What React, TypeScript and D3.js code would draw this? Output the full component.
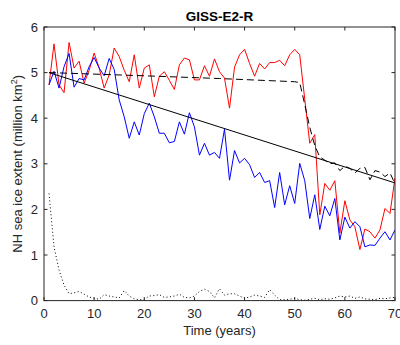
import React from "react";
import * as d3 from "d3";

const years = d3.range(1, 71);
const redSeries = [4.73,5.63,4.73,4.56,5.66,5.1,5.25,4.77,5.05,5.43,5.1,4.66,4.95,5.54,5.35,5.05,4.8,5.39,4.66,5.1,5.17,4.47,4.92,5.02,4.83,4.63,5.17,5.32,5.28,4.84,4.84,5.15,4.92,5.3,5.02,4.88,4.22,5.12,5.39,5.51,5.2,4.92,5.2,5.08,5.22,5.22,5.27,5.15,5.39,5.51,5.39,4.42,3.45,3.64,1.88,2.57,2.42,2.63,1.48,2.19,1.77,1.62,1.12,1.57,1.51,1.37,1.55,2.02,1.91,2.69];
const blueSeries = [4.73,5.03,4.66,5.13,5.42,4.68,4.87,4.84,5.13,5.33,5.1,4.93,5.31,5.07,4.4,4.03,3.56,3.92,3.63,4.1,4.33,4.03,3.67,3.67,3.46,3.49,3.92,3.65,4.12,3.81,3.19,3.45,3.19,3.25,3.12,3.76,2.64,3.29,3.02,3.12,2.98,2.7,2.81,2.59,2.63,2.04,2.81,2.1,2.52,2.13,3.01,2.63,1.8,2.32,1.56,2.07,1.86,2.24,1.33,1.83,1.59,1.73,1.62,1.18,1.22,1.21,1.37,1.51,1.33,1.55];
const dottedSeries = [2.35,1.18,0.67,0.34,0.15,0.17,0.2,0.14,0.08,0.05,0.03,0.13,0.1,0.08,0.06,0.22,0.1,0.04,0.02,0.03,0.1,0.11,0.13,0.07,0.08,0.1,0.14,0.07,0.06,0.1,0.2,0.25,0.2,0.06,0.26,0.12,0.15,0.15,0.1,0.05,0.08,0.12,0.1,0.07,0.24,0.12,0.02,0.02,0.03,0.05,0.02,0.01,0.03,0.05,0.02,0.04,0.03,0.06,0.1,0.08,0.1,0.05,0.08,0.04,0.03,0.02,0.05,0.04,0.06,0.07];
const dashedYears = [1, 20, 35, 50, 51, 52, 53, 54, 55, 56, 57, 58, 59, 60, 61, 62, 63, 64, 65, 66, 67, 68, 69, 70];
const dashedValues = [5.0, 4.93, 4.87, 4.8, 4.78, 4.3, 3.8, 3.4, 3.15, 3.08, 3.0, 3.02, 2.85, 2.95, 2.9, 2.8, 2.9, 2.92, 2.65, 2.85, 2.82, 2.72, 2.8, 2.56];
const trendYears = [1, 70];
const trendValues = [5.0, 2.58];
const xTicks = [0, 10, 20, 30, 40, 50, 60, 70];
const yTicks = [0, 1, 2, 3, 4, 5, 6];

const W = 400, H = 345;
const L = 44, R = 395, T = 27, B = 300.6;
const axisColor = "#262626";
const font = "'Liberation Sans', Arial, Helvetica, sans-serif";

export default function App() {
  const x = d3.scaleLinear().domain([0, 70]).range([L, R]);
  const y = d3.scaleLinear().domain([0, 6]).range([B, T]);
  const line = d3.line<[number, number]>().x(d => x(d[0])).y(d => y(d[1]));
  const zip = (xs: number[], vs: number[]) => xs.map((t, i) => [t, vs[i]] as [number, number]);
  const tl = 3.5;
  return (
    <svg width={W} height={H} style={{ position: "absolute", left: 0, top: 0, background: "#fff" }} fontFamily={font}>
      <rect x={0} y={0} width={W} height={H} fill="#fff" />
      <rect x={L} y={T} width={R - L} height={B - T} fill="#fff" />
      <defs>
        <clipPath id="clip"><rect x={L} y={T} width={R - L} height={B - T} /></clipPath>
      </defs>
      <g clipPath="url(#clip)" fill="none" strokeLinejoin="round">
        <path d={line(zip(years, dottedSeries)) || ""} stroke="#000" strokeWidth={1} strokeDasharray="1,2.5" />
        <path d={line(zip(years, redSeries)) || ""} stroke="#ff0000" strokeWidth={1} />
        <path d={line(zip(years, blueSeries)) || ""} stroke="#0000ff" strokeWidth={1} />
        <path d={line(zip(dashedYears, dashedValues)) || ""} stroke="#000" strokeWidth={1} strokeDasharray="7,4" />
        <path d={line(zip(trendYears, trendValues)) || ""} stroke="#000" strokeWidth={1} />
      </g>
      <g stroke={axisColor} strokeWidth={1} fill="none">
        <rect x={L} y={T} width={R - L} height={B - T} />
        {xTicks.map(t => (
          <g key={"xt" + t}>
            <line x1={x(t)} x2={x(t)} y1={B} y2={B - tl} />
            <line x1={x(t)} x2={x(t)} y1={T} y2={T + tl} />
          </g>
        ))}
        {yTicks.map(t => (
          <g key={"yt" + t}>
            <line x1={L} x2={L + tl} y1={y(t)} y2={y(t)} />
            <line x1={R} x2={R - tl} y1={y(t)} y2={y(t)} />
          </g>
        ))}
      </g>
      <g fill={axisColor} fontSize={13}>
        {xTicks.map(t => (
          <text key={"xl" + t} x={x(t)} y={B + 17} textAnchor="middle">{t}</text>
        ))}
        {yTicks.map(t => (
          <text key={"yl" + t} x={L - 6} y={y(t) + 4.5} textAnchor="end">{t}</text>
        ))}
        <text x={(L + R) / 2} y={B + 34} textAnchor="middle">Time (years)</text>
        <text transform={`translate(22,${(T + B) / 2}) rotate(-90)`} textAnchor="middle">
          NH sea ice extent (million km<tspan dy={-5} fontSize={9}>2</tspan><tspan dy={5}>)</tspan>
        </text>
      </g>
      <text x={(L + R) / 2} y={21} textAnchor="middle" fontSize={13.5} fontWeight="bold" fill="#000">GISS-E2-R</text>
    </svg>
  );
}
